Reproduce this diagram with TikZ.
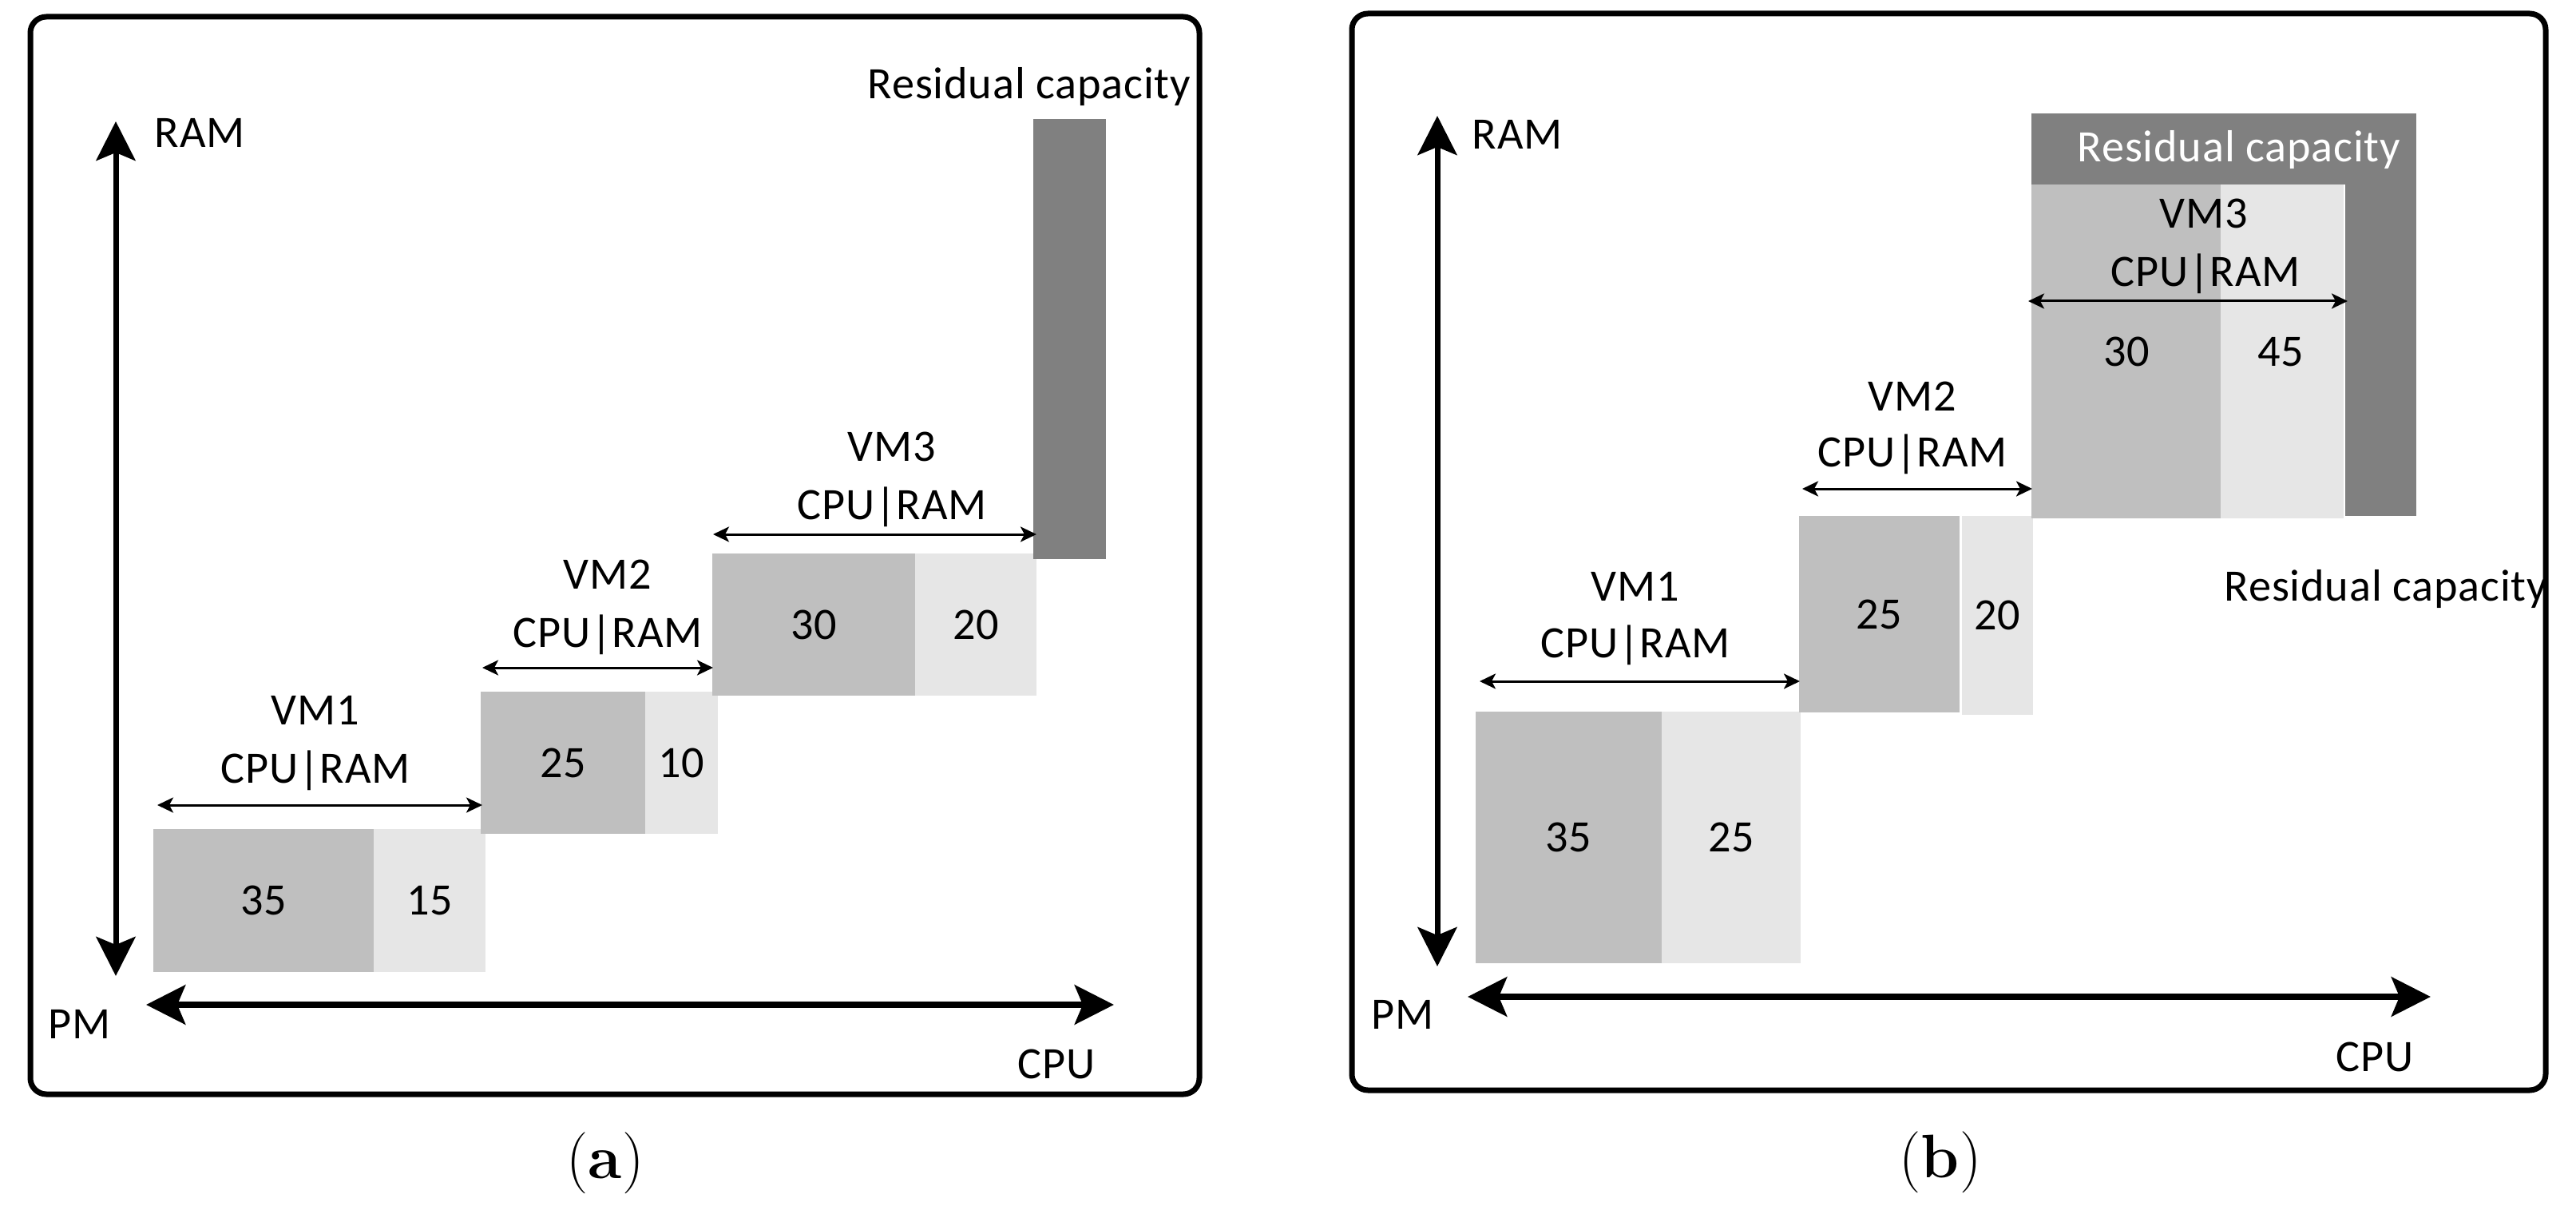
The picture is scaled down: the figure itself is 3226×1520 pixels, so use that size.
\documentclass[tikz,border=0pt]{standalone}
\usepackage{fontspec}
\newfontfamily\carl[LetterSpace=1.5]{Carlito}
\usetikzlibrary{arrows.meta,fit}
\definecolor{cpug}{HTML}{BFBFBF}
\definecolor{ramg}{HTML}{E6E6E6}
\definecolor{resg}{HTML}{808080}
\begin{document}
\begin{tikzpicture}[x=0.1mm,y=-0.1mm,
  lbl/.style={font=\carl\fontsize{16}{19}\selectfont, inner sep=0pt, anchor=base},
  num/.style={font=\carl\fontsize{16}{19}\selectfont, inner sep=0pt},
  box/.style={inner sep=0pt, outer sep=0pt, draw=none},
  framebox/.style={inner sep=0pt, draw=black, line width=0.7mm, rounded corners=2mm},
  bigtip/.tip={Stealth[length=4.9mm,width=4.9mm,inset=1mm]},
  smalltip/.tip={Stealth[length=2mm,width=1.9mm,inset=0.5mm]},
  vaxis/.style={line width=0.7mm, bigtip-bigtip},
  haxis/.style={line width=0.85mm, bigtip-bigtip},
  dim/.style={line width=0.3mm, smalltip-smalltip},
  captext/.style={font=\fontsize{21.9}{26}\selectfont, inner sep=0pt, anchor=base}]
\useasboundingbox (0,0) rectangle (3226,1520);

% ---------------- Panel (a) ----------------
\node[framebox, fit={(38,21)(1502,1370)}] (pa) {};
\node[box, fill=cpug, fit={(192,1038)(468,1217)}] (a1c) {};
\node[box, fill=ramg, fit={(468,1038)(608,1217)}] (a1r) {};
\node[box, fill=cpug, fit={(602,866)(808,1044)}] (a2c) {};
\node[box, fill=ramg, fit={(808,866)(899,1044)}] (a2r) {};
\node[box, fill=cpug, fit={(892,693)(1146,871)}] (a3c) {};
\node[box, fill=ramg, fit={(1146,693)(1298,871)}] (a3r) {};
\node[box, fill=resg, fit={(1294,149)(1385,700)}] (ares) {};

\node[num] (a1cn) at (a1c) {35};
\node[num] (a1rn) at (a1r) {15};
\node[num] (a2cn) at (a2c) {25};
\node[num] (a2rn) at (a2r) {10};
\node[num] (a3cn) at (a3c) {30};
\node[num] (a3rn) at (a3r) {20};

\node[lbl] (a1vm) at (395,907) {VM1};
\node[lbl] (a1cr) at (395,980) {CPU|RAM};
\node[lbl] (a2vm) at (761,737) {VM2};
\node[lbl] (a2cr) at (761,810) {CPU|RAM};
\node[lbl] (a3vm) at (1117,577) {VM3};
\node[lbl] (a3cr) at (1117,650) {CPU|RAM};
\node[lbl] (ares-l) at (1289,124) {Residual capacity};

\coordinate (a1L) at (197,1008); \coordinate (a1R) at (604,1008);
\coordinate (a2L) at (604,836);  \coordinate (a2R) at (893,836);
\coordinate (a3L) at (893,669);  \coordinate (a3R) at (1298,669);
\draw[dim] (a1L) -- (a1R);
\draw[dim] (a2L) -- (a2R);
\draw[dim] (a3L) -- (a3R);

\coordinate (aRtop) at (145,152); \coordinate (aRbot) at (145,1222);
\coordinate (aCl) at (183,1258);  \coordinate (aCr) at (1395,1258);
\draw[vaxis] (aRtop) -- (aRbot);
\draw[haxis] (aCl) -- (aCr);
\node[lbl, anchor=base west] (aram) at (193,185) {RAM};
\node[lbl, anchor=base west] (apm) at (60,1300) {PM};
\node[lbl, anchor=base east] (acpu) at (1372,1350) {CPU};

\node[captext] (capa) at (758,1475) {(\textbf{a})};

% ---------------- Panel (b) ----------------
\node[framebox, fit={(1693,17)(3188,1365)}] (pb) {};
\node[box, fill=cpug, fit={(1848,891)(2081,1206)}] (b1c) {};
\node[box, fill=ramg, fit={(2081,891)(2255,1206)}] (b1r) {};
\node[box, fill=cpug, fit={(2253,646)(2454,892)}] (b2c) {};
\node[box, fill=ramg, fit={(2457,646)(2546,895)}] (b2r) {};
\node[box, fill=resg, fit={(2544,142)(3026,231)}] (bresT) {};
\node[box, fill=resg, fit={(2937,231)(3026,646)}] (bresR) {};
\node[box, fill=cpug, fit={(2544,231)(2781,649)}] (b3c) {};
\node[box, fill=ramg, fit={(2781,231)(2935,649)}] (b3r) {};

\node[num] (b1cn) at (b1c) {35};
\node[num] (b1rn) at (b1r) {25};
\node[num] (b2cn) at (b2c) {25};
\node[num] (b2rn) at (b2r) {20};
\node[lbl] (b3cn) at (2663,458) {30};
\node[lbl] (b3rn) at (2856,458) {45};

\node[lbl] (b1vm) at (2048,752) {VM1};
\node[lbl] (b1cr) at (2048,823) {CPU|RAM};
\node[lbl] (b2vm) at (2395,514) {VM2};
\node[lbl] (b2cr) at (2395,584) {CPU|RAM};
\node[lbl] (b3vm) at (2760,286) {VM3};
\node[lbl] (b3cr) at (2762,359) {CPU|RAM};
\node[lbl, text=white] (bresT-l) at (2804,203) {Residual capacity};
\node[lbl] (bres-l) at (2988,752) {Residual capacity};

\coordinate (b1L) at (1853,853); \coordinate (b1R) at (2254,853);
\coordinate (b2L) at (2257,612); \coordinate (b2R) at (2545,612);
\coordinate (b3L) at (2540,377); \coordinate (b3R) at (2940,377);
\draw[dim] (b1L) -- (b1R);
\draw[dim] (b2L) -- (b2R);
\draw[dim] (b3L) -- (b3R);

\coordinate (bRtop) at (1800,145); \coordinate (bRbot) at (1800,1210);
\coordinate (bCl) at (1838,1248);  \coordinate (bCr) at (3044,1248);
\draw[vaxis] (bRtop) -- (bRbot);
\draw[haxis] (bCl) -- (bCr);
\node[lbl, anchor=base west] (bram) at (1843,187) {RAM};
\node[lbl, anchor=base west] (bpm) at (1717,1288) {PM};
\node[lbl, anchor=base east] (bcpu) at (3023,1341) {CPU};

\node[captext] (capb) at (2430,1474) {(\textbf{b})};
\end{tikzpicture}
\end{document}
